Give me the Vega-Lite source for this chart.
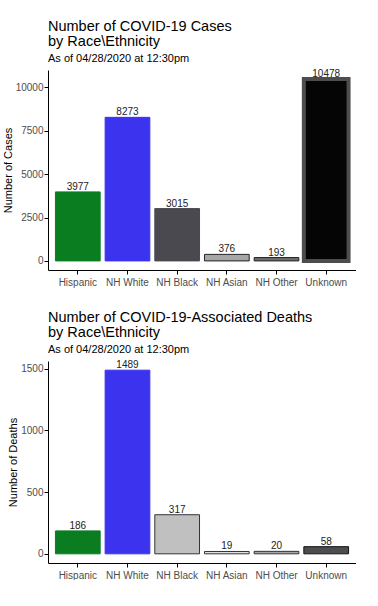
{
  "$schema": "https://vega.github.io/schema/vega-lite/v6.json",
  "padding": {"left": 2, "top": 18, "right": 0, "bottom": 0},
  "spacing": 22,
  "resolve": {"scale": {"fill": "independent", "stroke": "independent"}},
  "config": {
    "font": "Liberation Sans",
    "view": {"stroke": null},
    "title": {"anchor": "start", "frame": "group", "fontSize": 14.5, "fontWeight": "normal", "color": "#000000", "lineHeight": 15, "subtitleFontSize": 11, "subtitleColor": "#000000", "subtitlePadding": 4, "offset": 4},
    "axis": {"domainColor": "#000000", "tickColor": "#000000", "tickSize": 4, "labelColor": "#4d4d4d", "labelFontSize": 10, "titleFontSize": 11, "titleFontWeight": "normal", "titleColor": "#000000", "grid": false, "labelPadding": 1}
  },
  "datasets": {
    "cases": [
      {"race": "Hispanic", "count": 3977},
      {"race": "NH White", "count": 8273},
      {"race": "NH Black", "count": 3015},
      {"race": "NH Asian", "count": 376},
      {"race": "NH Other", "count": 193},
      {"race": "Unknown", "count": 10478}
    ],
    "deaths": [
      {"race": "Hispanic", "count": 186},
      {"race": "NH White", "count": 1489},
      {"race": "NH Black", "count": 317},
      {"race": "NH Asian", "count": 19},
      {"race": "NH Other", "count": 20},
      {"race": "Unknown", "count": 58}
    ]
  },
  "vconcat": [
    {
      "width": 308,
      "height": 200,
      "title": {"text": ["Number of COVID-19 Cases", "by Race\\Ethnicity"], "subtitle": "As of 04/28/2020 at 12:30pm"},
      "data": {"name": "cases"},
      "encoding": {
        "x": {"field": "race", "type": "nominal", "sort": null, "scale": {"paddingInner": 0.1, "paddingOuter": 0.15}, "axis": {"title": null, "labelAngle": 0, "labelPadding": 3}},
        "y": {"field": "count", "type": "quantitative", "scale": {"domain": [-524, 11002], "nice": false, "zero": false}, "axis": {"title": "Number of Cases", "values": [0, 2500, 5000, 7500, 10000], "format": "d", "titlePadding": 2}}
      },
      "layer": [
        {
          "mark": {"type": "bar", "strokeWidth": 1},
          "encoding": {
            "y2": {"datum": 0},
            "fill": {"field": "race", "type": "nominal", "legend": null, "scale": {"domain": ["Hispanic", "NH White", "NH Black", "NH Asian", "NH Other", "Unknown"], "range": ["#0b7d21", "#3b33ee", "#4a4950", "#a6a6a6", "#6e6e6e", "#050505"]}},
            "stroke": {"field": "race", "type": "nominal", "legend": null, "scale": {"domain": ["Hispanic", "NH White", "NH Black", "NH Asian", "NH Other", "Unknown"], "range": ["#0b7d21", "#3b33ee", "#4a4950", "#222222", "#222222", "#4d4d4d"]}},
            "strokeWidth": {"condition": {"test": "datum.race === 'Unknown'", "value": 4}, "value": 1}
          }
        },
        {
          "mark": {"type": "text", "baseline": "bottom", "dy": 0, "fontSize": 10, "color": "#222222"},
          "encoding": {"text": {"field": "count", "type": "quantitative", "format": "d"}}
        }
      ]
    },
    {
      "width": 308,
      "height": 202,
      "title": {"text": ["Number of COVID-19-Associated Deaths", "by Race\\Ethnicity"], "subtitle": "As of 04/28/2020 at 12:30pm"},
      "data": {"name": "deaths"},
      "encoding": {
        "x": {"field": "race", "type": "nominal", "sort": null, "scale": {"paddingInner": 0.1, "paddingOuter": 0.15}, "axis": {"title": null, "labelAngle": 0, "labelPadding": 3}},
        "y": {"field": "count", "type": "quantitative", "scale": {"domain": [-74.45, 1563.45], "nice": false, "zero": false}, "axis": {"title": "Number of Deaths", "values": [0, 500, 1000, 1500], "format": "d", "titlePadding": 2}}
      },
      "layer": [
        {
          "mark": {"type": "bar", "strokeWidth": 1},
          "encoding": {
            "y2": {"datum": 0},
            "fill": {"field": "race", "type": "nominal", "legend": null, "scale": {"domain": ["Hispanic", "NH White", "NH Black", "NH Asian", "NH Other", "Unknown"], "range": ["#0b7d21", "#3b33ee", "#c0c0c0", "#e0e0e0", "#a8a8a8", "#4d4d4d"]}},
            "stroke": {"field": "race", "type": "nominal", "legend": null, "scale": {"domain": ["Hispanic", "NH White", "NH Black", "NH Asian", "NH Other", "Unknown"], "range": ["#0b7d21", "#3b33ee", "#333333", "#333333", "#333333", "#111111"]}}
          }
        },
        {
          "mark": {"type": "text", "baseline": "bottom", "dy": 0, "fontSize": 10, "color": "#222222"},
          "encoding": {"text": {"field": "count", "type": "quantitative", "format": "d"}}
        }
      ]
    }
  ]
}
